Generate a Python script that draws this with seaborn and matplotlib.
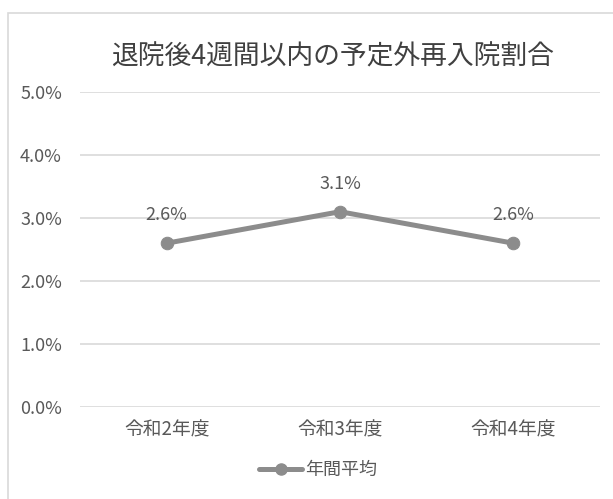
import matplotlib
matplotlib.use("Agg")
import matplotlib.pyplot as plt
import seaborn as sns
import pandas as pd
from matplotlib.patches import Rectangle
from matplotlib.lines import Line2D
from matplotlib.ticker import FuncFormatter, MultipleLocator

categories = ["令和2年度", "令和3年度", "令和4年度"]
rates = [2.6, 3.1, 2.6]
series_name = "年間平均"
title = "退院後4週間以内の予定外再入院割合"

sns.set_theme(style="white")
plt.rcParams["font.family"] = ["Noto Sans CJK JP", "DejaVu Sans"]

text_color = "#595959"
line_color = "#8c8c8c"
grid_color = "#d9d9d9"

df = pd.DataFrame({"year": categories, "rate": rates})

fig = plt.figure(figsize=(6.13, 4.99), dpi=100)
ax = fig.add_axes([80 / 613, 1 - 407 / 499, 520 / 613, 315 / 499])

# outer chart frame
fig.patches.append(Rectangle((8 / 613, -0.1), 1.2, 1 - 13 / 499 + 0.1,
                             transform=fig.transFigure, fill=False,
                             edgecolor="#d9d9d9", linewidth=1.2))

sns.lineplot(data=df, x="year", y="rate", ax=ax, color=line_color,
             linewidth=3.6, marker="o", markersize=9,
             markeredgecolor=line_color, sort=False, legend=False)

ax.set_xlim(-0.5, 2.5)
ax.set_ylim(0, 5.0)
ax.yaxis.set_major_locator(MultipleLocator(1.0))
ax.yaxis.set_major_formatter(FuncFormatter(lambda v, _: f"{v:.1f}%"))
ax.grid(axis="y", color=grid_color, linewidth=1.2)
ax.set_axisbelow(True)
for s in ax.spines.values():
    s.set_visible(False)
ax.tick_params(axis="both", length=0, colors=text_color)
ax.tick_params(axis="y", pad=13, labelsize=13)
ax.tick_params(axis="x", pad=9, labelsize=13.5)
ax.set_xlabel("")
ax.set_ylabel("")

for i, v in enumerate(rates):
    ax.annotate(f"{v:.1f}%", (i, v), xytext=(0, 20), textcoords="offset points",
                ha="center", va="center", color=text_color, fontsize=13)

fig.text(333 / 613, 1 - 57 / 499, title, ha="center", va="center",
         fontsize=19.3, color="#404040")

handle = Line2D([], [], color=line_color, linewidth=3.6, marker="o",
                markersize=8)
fig.legend([handle], [series_name], loc="center",
           bbox_to_anchor=(318 / 613, 1 - 470 / 499), frameon=False,
           fontsize=13, labelcolor=text_color, handlelength=2.4,
           handletextpad=0.15)

fig.savefig("out.png", dpi=100, facecolor="white")
